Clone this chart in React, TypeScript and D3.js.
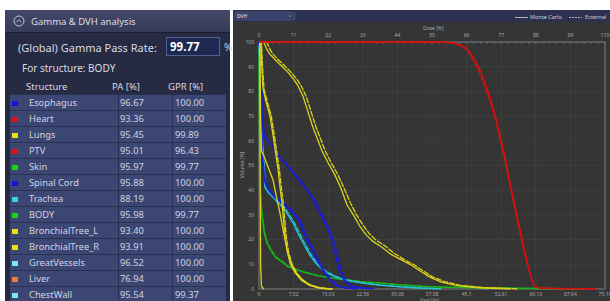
import React from 'react';
import * as d3 from 'd3';

// ---- table data (left panel) ----
const structures = ['Esophagus', 'Heart', 'Lungs', 'PTV', 'Skin', 'Spinal Cord', 'Trachea', 'BODY',
  'BronchialTree_L', 'BronchialTree_R', 'GreatVessels', 'Liver', 'ChestWall'];
const paValues = ['96.67', '93.36', '95.45', '95.01', '95.97', '95.88', '88.19', '95.98', '93.40', '93.91', '96.52', '76.94', '95.54'];
const gprValues = ['100.00', '100.00', '99.89', '96.43', '99.77', '100.00', '100.00', '99.77', '100.00', '100.00', '100.00', '100.00', '99.37'];
const structureColors = ['#1414e0', '#e01414', '#e8e014', '#e01414', '#14d814', '#1414e0', '#30d8e0', '#14d814',
  '#e8e014', '#e8e014', '#7ee8f0', '#f07838', '#7ee8f0'];

// ---- axis ticks ----
const doseTicksPct = [0, 11, 22, 33, 44, 55, 66, 77, 88, 99, 110];
const doseTicksGy = ['0', '7.52', '15.03', '22.56', '30.08', '37.58', '45.1', '52.61', '60.13', '67.64', '75.16'];
const volumeTicks = [0, 10, 20, 30, 40, 50, 60, 70, 80, 90, 100];

// ---- DVH curves: [dose %, volume %] ----
const ptvMC = [[0, 100], [58, 100], [62, 99.6], [64, 98.8], [66, 97.5], [67.5, 95], [69, 92], [70.5, 88], [72, 83], [73.5, 77.5], [75, 71], [76.5, 63], [78, 55], [79.5, 45], [81, 36], [82.5, 27], [84, 18], [85.5, 10], [86.5, 5], [87.5, 1.5], [89, 0.4], [95, 0.2], [107, 0]];
const ptvExt = [[0, 100], [58, 100], [62, 99.4], [64, 98.4], [66, 96.8], [67.5, 94], [69, 90.5], [70.5, 86.5], [72, 81.5], [73.5, 76], [75, 69.5], [76.5, 61.5], [78, 53], [79.5, 43.5], [81, 34.5], [82.5, 25.5], [84, 16.5], [85.5, 9], [86.5, 4.5], [87.5, 1.2], [89, 0.3], [95, 0.1], [107, 0]];
const lungsMC = [[0, 100], [1.5, 100], [2.5, 97], [3.5, 95], [5, 93], [7, 90.5], [9, 88], [11, 85], [12.5, 82], [14, 78], [15.5, 72], [17, 66], [18.5, 61], [20, 56], [22, 51], [24, 46.5], [26, 41], [28, 34], [30, 30], [32, 25.5], [34, 22], [36, 19.5], [39, 17], [42, 14], [45, 12], [48, 10], [51, 7.5], [54, 5], [58, 2.8], [63, 1.4], [70, 0.5], [80, 0.1]];
const lungsExt = [[0, 100], [2.5, 100], [3.5, 97], [4.5, 95], [6, 93], [8, 90.5], [10, 88], [12, 85], [13.5, 82], [15, 78], [16.5, 72], [18, 66], [19.5, 61], [21, 56], [23, 51], [25, 46.5], [27, 41], [29, 35], [31, 30], [33, 26], [35, 22.5], [37, 20], [40, 17.5], [43, 14.5], [46, 12], [49, 10], [52, 7.5], [55, 5], [59, 3], [64, 1.5], [71, 0.6], [82, 0.1]];
const bronchLMC = [[0, 100], [0.6, 100], [0.9, 90], [1.3, 81], [2.2, 76], [3.5, 70], [4.5, 62], [5.3, 55], [6.1, 48], [6.7, 41], [7.3, 35], [7.8, 28], [8.3, 21], [9, 15], [10, 10], [11.5, 6.5], [13.5, 3.5], [16, 1.5], [19.5, 0.3], [23, 0]];
const bronchLExt = [[0, 100], [0.8, 100], [1.1, 90], [1.6, 81], [2.6, 76], [3.9, 70], [4.9, 62], [5.7, 55], [6.5, 48], [7.1, 41], [7.7, 35], [8.2, 28], [8.7, 21], [9.4, 15], [10.5, 10], [12, 6.5], [14, 3.5], [16.5, 1.5], [20, 0.3], [23.5, 0]];
const bronchRMC = [[0, 100], [0.3, 100], [0.5, 70], [0.8, 56], [1.5, 54], [3, 49], [4.5, 44], [5.6, 37], [6.7, 30.5], [7.8, 23], [8.9, 16], [10, 11], [11.5, 7], [13.5, 4], [16, 1.8], [19.5, 0.4], [23, 0]];
const lungsLow = [[0, 100], [0.2, 100], [0.35, 60], [0.5, 10], [0.8, 1], [1.5, 0]];
const esophMC = [[0, 100], [0.3, 98], [0.5, 90], [0.8, 80], [1, 70], [1.2, 64], [2, 61], [3, 59.5], [4.5, 57.5], [5.5, 55], [6.7, 53], [8.5, 50.5], [10.8, 47], [13, 43.5], [15.2, 40], [17, 36.5], [18.4, 33], [19.8, 29.5], [21.2, 26], [22.5, 22], [23.5, 18], [24.5, 13], [25.5, 7.5], [27, 3.5], [29, 1.3], [32, 0.5], [36, 0.1]];
const esophExt = [[0, 100], [0.4, 98], [0.7, 90], [1, 80], [1.3, 70], [1.6, 63], [2.5, 60.5], [3.5, 59], [5, 57], [6, 54.5], [7.3, 52.5], [9.2, 50], [11.5, 46.5], [13.7, 43], [15.9, 39.5], [17.7, 36], [19.1, 32.5], [20.5, 29], [21.9, 25.5], [23.2, 21.5], [24.2, 17.5], [25.2, 12.5], [26.2, 7], [27.7, 3.2], [29.7, 1.2], [32.7, 0.4], [37, 0.1]];
const cordMC = [[0, 100], [0.2, 97], [0.4, 85], [0.7, 70], [1, 55], [1.5, 46], [1.9, 43], [3, 40], [5, 37], [7.5, 34.5], [9.9, 32], [11.5, 29.5], [13, 26.7], [14.2, 23], [15.2, 19.8], [16.9, 15.8], [18.4, 11.7], [20.5, 7], [22.6, 3.6], [24.5, 1.5], [27, 0.5], [31, 0.1]];
const cordExt = [[0, 100], [0.3, 97], [0.5, 85], [0.8, 70], [1.1, 55], [1.7, 46], [2.2, 43], [3.4, 40], [5.5, 37], [8, 34.5], [10.4, 32], [12, 29.5], [13.5, 26.7], [14.7, 23], [15.7, 19.8], [17.4, 15.8], [18.9, 11.7], [21, 7], [23.1, 3.6], [25, 1.5], [27.5, 0.5], [31.5, 0.1]];
const tracheaMC = [[0, 100], [0.3, 90], [0.6, 75], [0.9, 62], [1.2, 55], [1.6, 47], [1.9, 41], [3, 39], [4.5, 37], [6, 35], [7.6, 33], [9.2, 30], [10.8, 26.7], [12.4, 22.5], [14, 18.6], [16, 14], [18, 10.5], [20, 8], [21.6, 6.5], [24, 5], [27, 3.8], [30, 3], [33, 2.4], [38, 1.6], [44, 1], [51, 0.4], [57, 0.1]];
const tracheaExt = [[0, 100], [0.4, 90], [0.7, 75], [1, 62], [1.4, 55], [1.8, 47], [2.2, 41], [3.4, 39], [5, 37], [6.5, 35], [8.1, 33], [9.7, 30], [11.3, 26.7], [12.9, 22.5], [14.5, 18.6], [16.5, 14], [18.5, 10.5], [20.5, 8], [22.2, 6.5], [24.6, 5], [27.6, 3.8], [30.6, 3], [33.6, 2.4], [38.6, 1.6], [44.6, 1], [51.6, 0.4], [58, 0.1]];
const bodyMC = [[0, 100], [0.1, 70], [0.2, 50], [0.3, 42], [0.6, 35], [1, 29], [1.6, 23], [2.5, 18.6], [4, 15], [5.5, 12.5], [6.7, 11.5], [9, 9.2], [12, 7.7], [15, 6.5], [18.5, 5.4], [22.6, 4.5], [27, 3.7], [32, 3], [38.5, 2.4], [45, 1.7], [52, 1.1], [60, 0.7], [70, 0.5], [80, 0.3], [90, 0.2], [102, 0]];
const bodyExt = [[0, 100], [0.15, 70], [0.25, 50], [0.4, 42], [0.7, 35], [1.1, 29], [1.8, 23], [2.7, 18.6], [4.3, 15], [5.8, 12.5], [7.1, 11.5], [9.4, 9.2], [12.5, 7.7], [15.5, 6.5], [19, 5.4], [23.2, 4.5], [27.6, 3.7], [32.6, 3], [39, 2.4], [45.5, 1.7], [52.5, 1.1], [60.5, 0.7], [70.5, 0.5], [80.5, 0.3], [90.5, 0.2], [102, 0]];

const YEL = '#dcd41c';
const BLU = '#1a1ae0';
const CYA = '#26c4d2';
const GRN = '#18b41c';
const RED = '#d81010';

// MC = solid; External = long dashes (reads almost solid at this size)
const EXT_DASH = '6,1';
const curves = [
  { pts: bodyMC, color: GRN, dash: null },
  { pts: bodyExt, color: GRN, dash: EXT_DASH },
  { pts: tracheaMC, color: CYA, dash: null },
  { pts: tracheaExt, color: CYA, dash: EXT_DASH },
  { pts: cordMC, color: BLU, dash: null },
  { pts: cordExt, color: BLU, dash: EXT_DASH },
  { pts: esophMC, color: BLU, dash: null },
  { pts: esophExt, color: BLU, dash: EXT_DASH },
  { pts: lungsLow, color: YEL, dash: null },
  { pts: bronchRMC, color: YEL, dash: null },
  { pts: bronchLMC, color: YEL, dash: null },
  { pts: bronchLExt, color: YEL, dash: EXT_DASH },
  { pts: lungsMC, color: YEL, dash: null },
  { pts: lungsExt, color: YEL, dash: EXT_DASH },
  { pts: ptvMC, color: RED, dash: null },
  { pts: ptvExt, color: RED, dash: EXT_DASH },
];

const FONT = '"Noto Sans", "DejaVu Sans", sans-serif';

const LeftPanel = () => {
  const rowTop = 94;
  const rowH = 16;
  return (
    <g fontFamily={FONT}>
      <defs>
        <linearGradient id="hdr" x1="0" y1="0" x2="0" y2="1">
          <stop offset="0" stopColor="#454a6c" />
          <stop offset="1" stopColor="#353a58" />
        </linearGradient>
      </defs>
      <rect x={5} y={10} width={225} height={291} fill="#262a42" />
      <rect x={5} y={10} width={225} height={22} fill="url(#hdr)" />
      <line x1={5} x2={230} y1={32.5} y2={32.5} stroke="#1a1d30" />
      <circle cx={19} cy={21} r={5} fill="none" stroke="#c4c6d6" strokeWidth={1} />
      <path d="M16.5,22.2 L19,19.7 L21.5,22.2" fill="none" stroke="#c4c6d6" strokeWidth={1} />
      <text x={31} y={25} fontSize={9.5} fill="#dcdee8">Gamma &amp; DVH analysis</text>

      <text x={18} y={52} fontSize={11} fill="#d8dae4">(Global) Gamma Pass Rate:</text>
      <rect x={166.5} y={37.5} width={53} height={18} fill="#1e2850" stroke="#56628e" />
      <text x={170} y={51} fontSize={11.5} fontWeight="bold" fill="#ffffff">99.77</text>
      <text x={224} y={51} fontSize={10} fill="#c8cad8">%</text>
      <text x={22} y={72} fontSize={10} fill="#d8dae4">For structure:  BODY</text>

      <text x={26} y={90} fontSize={9.5} fill="#d8dae4">Structure</text>
      <text x={112} y={90} fontSize={9.5} fill="#d8dae4">PA [%]</text>
      <text x={168} y={90} fontSize={9.5} fill="#d8dae4">GPR [%]</text>

      {structures.map((s, i) => {
        const y = rowTop + i * rowH;
        return (
          <g key={s}>
            <rect x={10} y={y} width={216} height={rowH} fill="#3c4672" />
            <line x1={10} x2={226} y1={y + 0.5} y2={y + 0.5} stroke="#2a3052" />
            <rect x={12} y={y + 7} width={6} height={5} fill={structureColors[i]} />
            <text x={29} y={y + 11.5} fontSize={9.3} fill="#d0d4e2">{s}</text>
            <text x={120} y={y + 11.5} fontSize={9.3} fill="#d0d4e2">{paValues[i]}</text>
            <text x={175} y={y + 11.5} fontSize={9.3} fill="#d0d4e2">{gprValues[i]}</text>
          </g>
        );
      })}
      <line x1={118.5} x2={118.5} y1={rowTop} y2={301} stroke="#2a3052" />
      <line x1={172.5} x2={172.5} y1={rowTop} y2={301} stroke="#2a3052" />
    </g>
  );
};

const RightPanel = () => {
  const x = d3.scaleLinear().domain([0, 110]).range([259, 605]);
  const xGy = d3.scaleLinear().domain([0, 75.16]).range([259, 605]);
  const y = d3.scaleLinear().domain([0, 100]).range([289, 42]);
  const line = d3.line<number[]>().x(d => x(d[0])).y(d => y(d[1]));
  const minor = d3.range(0, 110.01, 2.2);

  return (
    <g fontFamily={FONT}>
      <rect x={233} y={10} width={377} height={291} fill="#353535" />
      <rect x={233} y={10} width={377} height={12} fill="#2c3150" />
      <rect x={235} y={12} width={60} height={8} fill="#3a4168" stroke="#505a86" strokeWidth={0.6} rx={1} />
      <text x={237} y={18.3} fontSize={5} fill="#e8e8f0">DVH</text>
      <path d="M288.5,15.3 L290,16.8 L291.5,15.3" fill="none" stroke="#9aa0c0" strokeWidth={0.6} />

      <line x1={515} x2={528} y1={17.5} y2={17.5} stroke="#d0d0d8" strokeWidth={0.8} />
      <text x={530} y={18.5} fontSize={5.5} fill="#d0d0d8">Monte Carlo</text>
      <line x1={569} x2={582} y1={17.5} y2={17.5} stroke="#d0d0d8" strokeWidth={0.8} strokeDasharray="2,1" />
      <text x={585} y={18.5} fontSize={5.5} fill="#d0d0d8">External</text>

      {/* grid */}
      {doseTicksPct.map(t => (
        <line key={'gx' + t} x1={x(t)} x2={x(t)} y1={42} y2={289} stroke="#444444" strokeWidth={0.6} />
      ))}
      {volumeTicks.map(t => (
        <line key={'gy' + t} x1={259} x2={605} y1={y(t)} y2={y(t)} stroke="#444444" strokeWidth={0.6} />
      ))}
      {minor.map(t => (
        <line key={'mt' + t} x1={x(t)} x2={x(t)} y1={42} y2={44} stroke="#8a8a8a" strokeWidth={0.5} />
      ))}
      <rect x={259} y={42} width={346} height={247} fill="none" stroke="#8c8c8c" strokeWidth={0.8} />

      {/* top axis (dose %) */}
      {doseTicksPct.map(t => (
        <text key={'tx' + t} x={x(t)} y={37} fontSize={5} fill="#aaaaaa" textAnchor="middle">{t}</text>
      ))}
      <text x={423} y={30} fontSize={5} fill="#aaaaaa">Dose [%]</text>

      {/* bottom axis (dose Gy) */}
      {doseTicksGy.map(t => (
        <text key={'bx' + t} x={xGy(+t)} y={296} fontSize={5} fill="#aaaaaa" textAnchor="middle">{t}</text>
      ))}
      <text x={420} y={300.6} fontSize={4.2} fill="#aaaaaa">Dose [Gy]</text>

      {/* left axis */}
      {volumeTicks.map(t => (
        <text key={'ty' + t} x={254} y={y(t) + 1.8} fontSize={5} fill="#aaaaaa" textAnchor="end">{t}</text>
      ))}
      <text transform="translate(244,165) rotate(-90)" fontSize={5} fill="#aaaaaa" textAnchor="middle">Volume [%]</text>

      {curves.map((c, i) => (
        <path key={i} d={line(c.pts) || ''} fill="none" stroke={c.color} strokeWidth={1.3}
          strokeDasharray={c.dash || undefined} strokeLinejoin="round" />
      ))}
    </g>
  );
};

export default function App() {
  return (
    <div style={{ position: 'fixed', left: 0, top: 0 }}>
      <svg width={610} height={301} style={{ display: 'block', background: '#ffffff' }}>
        <LeftPanel />
        <RightPanel />
      </svg>
    </div>
  );
}
